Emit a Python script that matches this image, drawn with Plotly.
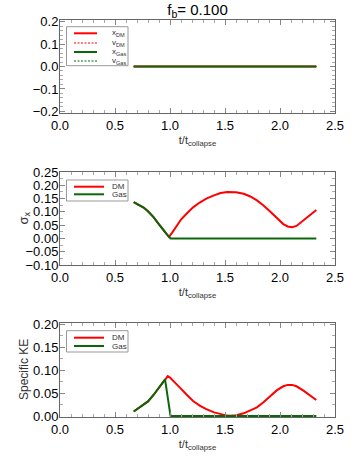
import plotly.graph_objects as go

# ---------------- data ----------------
title_text = "f<sub>b</sub>= 0.100"
x_title = "t/t<sub>collapse</sub>"
y_titles = ["", "σ<sub>x</sub>", "Specific KE"]

# panel 1: positions / velocities (all ~0)
t_p1 = [0.67, 1.0, 1.5, 2.0, 2.33]
x_dm = [0.0, 0.0, 0.0, 0.0, 0.0]
v_dm = [0.0, 0.0, 0.0, 0.0, 0.0]
x_gas = [0.0, 0.0, 0.0, 0.0, 0.0]
v_gas = [0.0, 0.0, 0.0, 0.0, 0.0]

# panel 2: sigma_x
t_sig_dm = [0.67, 0.72, 0.76, 0.80, 0.85, 0.90, 0.94, 0.97, 0.99, 1.02, 1.06, 1.10,
            1.15, 1.21, 1.27, 1.33, 1.40, 1.46, 1.52, 1.55, 1.60, 1.67, 1.73, 1.79,
            1.85, 1.91, 1.97, 2.03, 2.07, 2.11, 2.15, 2.21, 2.27, 2.33]
sig_dm = [0.137, 0.127, 0.116, 0.102, 0.080, 0.053, 0.030, 0.016, 0.006, 0.022, 0.047, 0.071,
          0.093, 0.117, 0.135, 0.150, 0.162, 0.171, 0.175, 0.175, 0.174, 0.168, 0.158, 0.143,
          0.124, 0.101, 0.077, 0.054, 0.045, 0.042, 0.047, 0.067, 0.088, 0.107]
t_sig_gas = [0.67, 0.72, 0.76, 0.80, 0.85, 0.90, 0.94, 0.97, 0.99, 1.005, 1.5, 2.0, 2.33]
sig_gas = [0.137, 0.127, 0.116, 0.102, 0.080, 0.053, 0.030, 0.016, 0.007, 0.0, 0.0, 0.0, 0.0]

# panel 3: specific kinetic energy
t_ke_dm = [0.67, 0.72, 0.76, 0.80, 0.85, 0.88, 0.92, 0.955, 0.97, 0.98, 1.00, 1.05, 1.09,
           1.15, 1.21, 1.27, 1.33, 1.40, 1.46, 1.52, 1.55, 1.60, 1.67, 1.73, 1.79, 1.85,
           1.91, 1.97, 2.03, 2.07, 2.11, 2.15, 2.21, 2.27, 2.33]
ke_dm = [0.010, 0.018, 0.025, 0.032, 0.046, 0.056, 0.067, 0.080, 0.086, 0.087, 0.084, 0.073, 0.062,
         0.047, 0.033, 0.023, 0.015, 0.008, 0.004, 0.001, 0.0005, 0.002, 0.006, 0.012, 0.019, 0.030,
         0.044, 0.056, 0.065, 0.068, 0.068, 0.065, 0.056, 0.046, 0.035]
t_ke_gas = [0.67, 0.72, 0.76, 0.80, 0.85, 0.88, 0.92, 0.955, 1.005, 1.5, 2.0, 2.33]
ke_gas = [0.010, 0.018, 0.025, 0.032, 0.046, 0.056, 0.067, 0.080, 0.0, 0.0, 0.0, 0.0]

RED = "#ff0000"
GREEN = "#0a680a"
DOT = "2px,1.5px"

fig = go.Figure()

def line(x, y, color, dash, xa, ya, width=2):
    fig.add_trace(go.Scatter(x=x, y=y, mode="lines", showlegend=False,
                             line=dict(color=color, dash=dash, width=width),
                             xaxis=xa, yaxis=ya))

line(t_p1, x_dm, RED, "solid", "x", "y")
line(t_p1, v_dm, RED, DOT, "x", "y", 1.2)
line(t_p1, x_gas, GREEN, "solid", "x", "y")
line(t_p1, v_gas, GREEN, DOT, "x", "y", 1.2)

line(t_sig_dm, sig_dm, RED, "solid", "x2", "y2")
line(t_sig_gas, sig_gas, GREEN, "solid", "x2", "y2")

line(t_ke_dm, ke_dm, RED, "solid", "x3", "y3")
line(t_ke_gas, ke_gas, GREEN, "solid", "x3", "y3")

FONT = "Liberation Sans, Arial, sans-serif"
H = 456
mt, mb = 20, 39
plot_h = H - mt - mb
def dom(top_px, bot_px):
    return [(H - mb - bot_px) / plot_h, (H - mb - top_px) / plot_h]

panels = [(20, 113), (172, 265), (323, 417)]

xcommon = dict(range=[0, 2.5], dtick=0.5, tickformat=".1f", ticks="inside", ticklen=5,
               tickcolor="#888", showline=True, linecolor="#666", linewidth=1,
               mirror="allticks", showgrid=False, zeroline=False, automargin=False,
               minor=dict(ticks="inside", ticklen=3, dtick=0.1, tickcolor="#aaa", showgrid=False),
               tickfont=dict(size=13, color="black", family=FONT),
               title=dict(text=x_title, font=dict(size=11, color="#333", family=FONT), standoff=4))
ycommon = dict(ticks="inside", ticklen=5, tickcolor="#888", showline=True, linecolor="#666",
               linewidth=1, mirror="allticks", showgrid=False, zeroline=False, automargin=False,
               ticklabelstandoff=-2,
               tickfont=dict(size=13, color="black", family=FONT))

layout = dict(
    width=354, height=456, plot_bgcolor="white", paper_bgcolor="white",
    margin=dict(l=60, r=19, t=mt, b=mb),
    title=dict(text=title_text, x=0.5, xref="paper", y=1 - 10 / H, yref="container",
               yanchor="middle", xanchor="center",
               font=dict(size=15, color="black", family=FONT)),
)
for i, (tp, bp) in enumerate(panels):
    sfx = "" if i == 0 else str(i + 1)
    xa = dict(xcommon, domain=[0, 1], anchor="y" + sfx)
    ya = dict(ycommon, domain=dom(tp, bp), anchor="x" + sfx)
    if i == 0:
        ya.update(range=[-0.207, 0.207], dtick=0.1, tickformat=".1f",
                  minor=dict(ticks="inside", ticklen=3, dtick=0.02, tickcolor="#aaa"))
    elif i == 1:
        ya.update(range=[-0.1, 0.25], dtick=0.05, tickformat=".2f",
                  minor=dict(ticks="inside", ticklen=3, dtick=0.025, tickcolor="#aaa"))
    else:
        ya.update(range=[-0.002, 0.203], dtick=0.05, tickformat=".2f",
                  minor=dict(ticks="inside", ticklen=3, dtick=0.025, tickcolor="#aaa"))
    layout["xaxis" + sfx] = xa
    layout["yaxis" + sfx] = ya

fig.update_layout(**layout)

# y-axis titles placed next to the tick labels
for i, (txt, fs) in enumerate(zip(y_titles, [13, 13, 12])):
    if not txt:
        continue
    sfx = "" if i == 0 else str(i + 1)
    fig.add_annotation(xref="paper", yref="y%s domain" % sfx, x=(24 - 60) / 275, y=0.5,
                       text=txt, textangle=-90, showarrow=False, xanchor="center", yanchor="middle",
                       font=dict(size=fs, color="#333", family=FONT))

# ---------------- manual legends ----------------
legend1 = [("x<sub>DM</sub>", RED, "solid"), ("v<sub>DM</sub>", RED, DOT),
           ("x<sub>Gas</sub>", GREEN, "solid"), ("v<sub>Gas</sub>", GREEN, DOT)]
legend2 = [("DM", RED, "solid"), ("Gas", GREEN, "solid")]

def add_legend(sfx, entries, box_top, box_bot, row_ys, line_x1, panel_top, panel_bot):
    xr = "x%s domain" % sfx
    yr = "y%s domain" % sfx
    ph = panel_bot - panel_top
    to_y = lambda py: (panel_bot - py) / ph
    to_x = lambda px: (px - 60) / 275
    fig.add_shape(type="rect", xref=xr, yref=yr, x0=to_x(66.5), x1=to_x(128), y0=to_y(box_bot),
                  y1=to_y(box_top), line=dict(color="#999", width=1), fillcolor="white", layer="above")
    for (lab, col, dash), py in zip(entries, row_ys):
        fig.add_shape(type="line", xref=xr, yref=yr, x0=to_x(74), x1=to_x(line_x1), y0=to_y(py), y1=to_y(py),
                      line=dict(color=col, dash=dash, width=2 if dash == "solid" else 1.2), layer="above")
        fig.add_annotation(xref=xr, yref=yr, x=to_x(110), y=to_y(py), text=lab, showarrow=False,
                           xanchor="left", yanchor="middle", font=dict(size=8, color="#333", family=FONT))

add_legend("", legend1, 26.7, 65.7, [33.3, 43, 52, 61], 97, 20, 113)
add_legend("2", legend2, 180, 201, [186.7, 194.3], 104, 172, 265)
add_legend("3", legend2, 330.7, 352, [337.7, 346], 104, 323, 417)

fig.write_html("out.html", config={"displayModeBar": False},
               post_script="document.body.style.margin='0';document.body.style.overflow='hidden';")
